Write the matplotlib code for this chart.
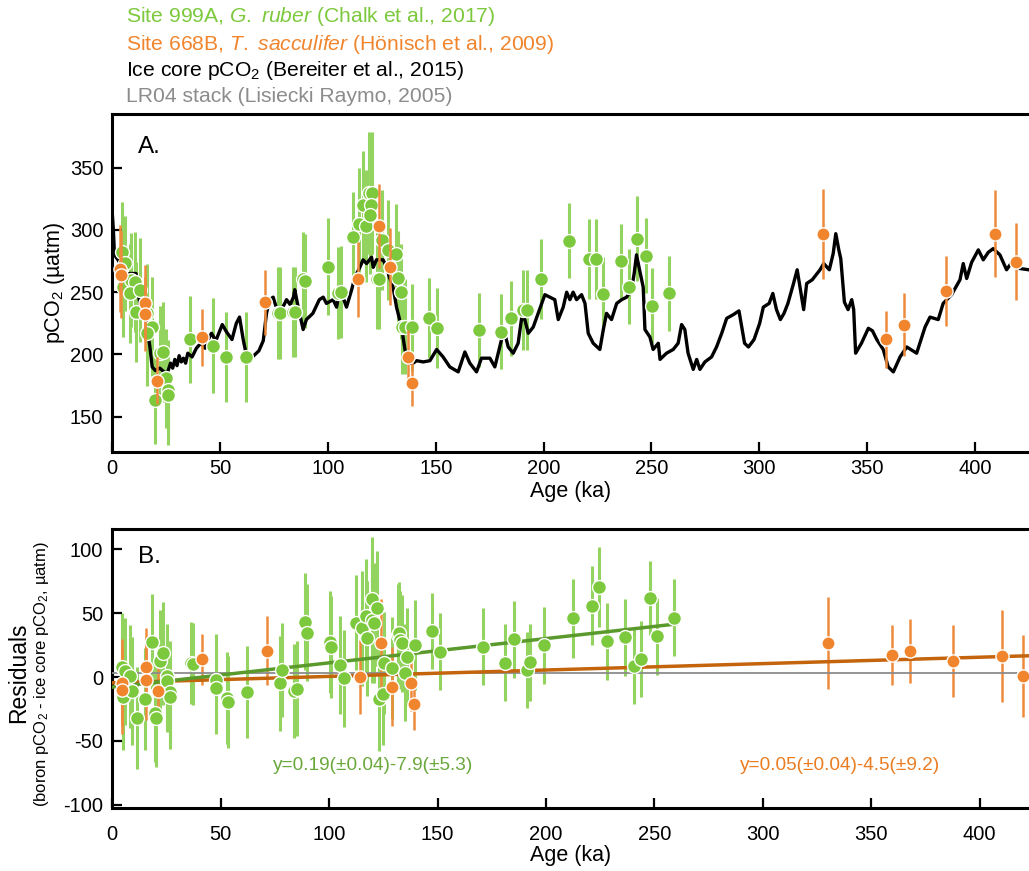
import matplotlib
matplotlib.use("Agg")
import numpy as np
import matplotlib.pyplot as plt

plt.rcParams["font.family"] = ["Liberation Sans", "DejaVu Sans"]
plt.rcParams["mathtext.fontset"] = "custom"
plt.rcParams["mathtext.rm"] = "Liberation Sans"
plt.rcParams["mathtext.it"] = "Liberation Sans:italic"
plt.rcParams["mathtext.default"] = "regular"
plt.rcParams["axes.unicode_minus"] = False

GREEN = "#7cc93e"
GREEN_ERR = "#92d45f"
GREEN_FIT = "#5a9a2c"
GREEN_TXT = "#6aa83c"
ORANGE = "#f0852e"
ORANGE_ERR = "#ee8a3c"
ORANGE_FIT = "#c4640c"
ORANGE_TXT = "#ea7d22"
GREY = "#8c8c8c"

# ── Ice core pCO2 (Bereiter et al., 2015) ───────────────────────────
ice_age = [0, 0.5, 1, 3, 6, 8, 11, 12, 13, 14.5, 16, 17.5, 18.5, 20, 22, 24, 25.5,
           27, 28, 29, 30, 31, 32, 33, 34, 35, 37, 39, 41, 43, 44.5, 46, 48, 51,
           53, 55.5, 57.5, 59, 60.7, 62, 65, 68, 70, 71.5, 73, 74.6, 76, 78.5, 80.8,
           82.5, 84, 84.6, 86.2, 88.5, 90, 93, 96, 97.8, 99.3, 102.4, 104, 105.5,
           107, 108.6, 111, 112.5, 114.8, 116.3, 117.9, 120.2, 121, 122.5, 125.6,
           127.2, 128.5, 130.2, 131.8, 134.1, 135.7, 137.2, 139.5, 141.1, 144.2,
           147.3, 150.4, 153.4, 156.5, 160.4, 163.5, 165.8, 168.9, 171.2, 175.1,
           177.4, 180.5, 182, 183.6, 185.9, 188.2, 189.8, 191.3, 192.9, 195.2, 197.5,
           200.6, 202.9, 205.2, 206.8, 209.1, 210.7, 212.2, 213.7, 215.3, 217.6,
           219.2, 220.7, 223, 226.1, 227.7, 229.2, 231.5, 233.9, 236.2, 238.5, 240.8,
           242, 243.1, 244.5, 246.2, 247, 249.3, 250.8, 253.2, 254, 257, 260.1, 262.4,
           264, 265.5, 267, 269.4, 271, 272.5, 274.8, 277.9, 280.2, 282.6, 284.9, 288,
           290.6, 293.2, 295, 297.6, 300.2, 301.9, 304.6, 306.3, 308, 309.8, 311.5,
           313.3, 315.9, 317.6, 319.4, 320.6, 322, 324.6, 328.2, 329.9, 332.5, 334.3,
           335.5, 336.9, 337.8, 339.5, 341.2, 342.9, 343.8, 344.7, 347.4, 350.6,
           352.5, 354.5, 357.5, 359.8, 362.2, 365.3, 368.4, 373, 376.9, 379.2, 383,
           385.3, 389.2, 393.1, 394.6, 396.2, 398.5, 401.6, 403.9, 406.2, 408.5,
           411.6, 414.7, 417.1, 420.9, 425]
ice_co2 = [313, 300, 280, 275, 262, 265, 265, 250, 238, 236, 225, 205, 190, 187, 189,
           186, 185, 193, 189, 196, 191, 199, 194, 197, 193, 201, 198, 205, 209, 205,
           212, 217, 211, 224, 218, 212, 225, 230, 212, 201, 198, 203, 211, 233, 244,
           246, 238, 236, 244, 240, 246, 252, 238, 220, 228, 233, 244, 246, 241, 244,
           238, 252, 246, 238, 252, 262, 270, 276, 273, 278, 270, 276, 276, 270, 262,
           254, 238, 222, 204, 193, 193, 195, 194, 195, 204, 198, 190, 186, 202, 193,
           186, 197, 197, 190, 212, 217, 206, 201, 209, 229, 228, 217, 222, 233, 248,
           246, 244, 228, 238, 250, 244, 250, 244, 248, 241, 217, 209, 204, 220, 233,
           228, 241, 244, 246, 252, 265, 280, 268, 254, 220, 214, 204, 209, 196, 201,
           204, 209, 224, 220, 201, 188, 196, 188, 194, 198, 206, 217, 229, 232, 235,
           209, 206, 212, 225, 238, 241, 249, 236, 228, 233, 241, 257, 268, 249, 236,
           257, 260, 268, 273, 268, 281, 297, 284, 277, 242, 236, 244, 236, 201, 209,
           221, 219, 212, 204, 190, 186, 198, 206, 201, 222, 230, 228, 241, 248, 260,
           273, 261, 274, 284, 276, 282, 285, 280, 268, 274, 269, 268]

# ── Site 999A, G. ruber (Chalk et al., 2017) : pCO2 ─────────────────
g_age = [4.3, 5.8, 5.0, 8.9, 10.4, 8.1, 12.8, 11.2, 15.9, 18.2, 15.9, 22.0, 23.6,
         19.7, 25.1, 25.9, 25.9, 35.9, 46.8, 52.6, 61.9, 76.9, 77.6, 83.6, 84.6,
         88.5, 89.5, 100.1, 104.7, 106.0, 111.7, 114.5, 116.3, 117.6, 119.1, 120.3,
         119.8, 119.4, 122.8, 123.6, 124.9, 127.9, 131.5, 132.6, 133.7, 134.4, 135.6,
         139.2, 146.9, 150.4, 170.1, 180.2, 184.8, 190.5, 192.1, 198.6, 212.0, 220.9,
         224.1, 227.4, 236.0, 239.7, 243.1, 247.4, 250.4, 258.1]
g_co2 = [282.5, 273.2, 254.4, 259.8, 258.4, 249.1, 251.8, 234.3, 233.0, 222.3, 217.0,
         201.0, 202.2, 163.4, 180.8, 171.4, 167.4, 212.2, 207.0, 197.7, 198.2, 233.5,
         233.5, 234.3, 234.3, 260.4, 259.0, 270.5, 249.1, 250.0, 294.6, 304.8, 320.0,
         303.0, 330.0, 330.0, 320.0, 312.0, 260.4, 260.4, 292.0, 283.9, 280.7, 261.0,
         250.4, 222.3, 222.3, 221.8, 229.5, 221.0, 219.6, 218.3, 229.0, 235.7, 235.7,
         260.4, 291.4, 276.7, 276.7, 248.6, 275.0, 254.4, 293.0, 279.3, 239.2, 249.1]
g_err = [40, 38, 40, 38, 40, 40, 42, 40, 40, 40, 42, 38, 40, 35, 40, 40, 40, 35, 38,
         36, 36, 37, 37, 36, 36, 38, 38, 39, 37, 37, 36, 45, 43, 45, 49, 49, 47, 47,
         40, 40, 40, 40, 40, 38, 38, 38, 38, 35, 32, 32, 30, 30, 30, 32, 32, 32, 30,
         32, 32, 30, 30, 30, 34, 30, 30, 30]

# ── Site 668B, T. sacculifer (Hönisch et al., 2009) : pCO2 ──────────
o_age = [3.8, 4.1, 15.1, 15.1, 20.8, 41.4, 71.0, 114.0, 123.8, 128.7, 137.2, 139.1,
         329.6, 358.8, 367.3, 386.6, 409.3, 419.0]
o_co2 = [269.0, 264.0, 241.6, 232.5, 178.9, 213.8, 241.9, 260.4, 303.2, 270.5, 197.7,
         177.3, 296.6, 212.2, 224.0, 251.0, 297.0, 274.5]
o_err = [35, 35, 30, 30, 19, 23, 26, 30, 34, 31, 22, 19, 36, 23, 25, 28, 35, 31]

# ── Residuals (boron pCO2 - ice core pCO2) ──────────────────────────
gr_age = [4.4, 5.8, 5.1, 8.0, 9.2, 11.3, 15.3, 18.2, 19.7, 20.0, 22.0, 23.3, 25.1,
          25.1, 26.6, 26.6, 36.5, 37.4, 47.6, 47.6, 53.0, 53.2, 62.0, 77.2, 78.1,
          83.8, 85.0, 88.9, 89.9, 100.4, 100.9, 105.1, 106.9, 112.3, 115.0, 117.0,
          117.7, 119.9, 120.0, 120.8, 122.2, 123.2, 124.8, 125.5, 128.9, 131.6, 132.1,
          132.8, 133.8, 134.9, 136.1, 139.8, 147.6, 151.0, 170.9, 180.9, 185.3, 191.1,
          192.7, 199.0, 212.4, 221.3, 224.5, 228.0, 236.6, 240.4, 243.9, 248.2, 251.2,
          258.9]
gr_res = [8.1, 4.5, -15.4, 0.5, -11.0, -32.3, -17.0, 27.6, -28.4, -32.0, 12.3, 18.5,
          1.2, -3.3, -11.5, -16.0, 10.7, 10.0, -2.3, -8.8, -16.2, -19.3, -11.5, -4.9,
          5.5, -11.0, -9.0, 43.3, 34.7, 27.6, 23.7, 9.4, -1.0, 42.5, 38.1, 47.7, 30.3,
          60.8, 44.6, 42.0, 53.8, -17.5, -13.0, 11.2, 7.0, 32.9, 34.7, 29.0, 26.4, 3.4,
          15.9, 25.0, 36.0, 19.8, 23.7, 11.2, 29.5, 5.5, 11.5, 24.8, 45.9, 55.8, 70.4,
          27.9, 31.1, 8.8, 14.1, 61.6, 31.8, 46.4]
gr_err = [42, 42, 42, 40, 42, 40, 40, 37, 38, 38, 40, 40, 40, 40, 40, 40, 32, 32, 36,
          36, 36, 36, 36, 37, 37, 37, 37, 38, 38, 40, 40, 38, 38, 37, 45, 45, 45, 49,
          49, 47, 45, 40, 40, 40, 40, 40, 40, 38, 38, 38, 38, 35, 30, 30, 30, 30, 30,
          30, 30, 30, 31, 31, 31, 30, 30, 30, 30, 29, 30, 30]

or_age = [4.3, 4.6, 15.4, 15.4, 21.2, 41.5, 71.2, 114.3, 123.9, 129.2, 137.8, 139.3,
          330.3, 359.7, 368.1, 387.6, 410.2, 419.9]
or_res = [-4.4, -10.2, 7.6, -2.3, -10.7, 13.8, 20.6, -0.2, 26.4, -7.6, -4.4, -21.1,
          26.4, 17.2, 20.6, 12.5, 16.7, 0.8]
or_err = [34, 34, 31, 31, 24, 20, 27, 29, 35, 31, 22, 20, 36, 23.5, 25, 28.5, 36, 32]

# Régressions linéaires (coefficients annoncés sur la figure)
fit_999 = (0.19, -7.9, 260.0)     # pente, ordonnée, âge max
fit_668 = (0.05, -4.5, 425.0)
zero_line = 3.5

W, H = 1029, 871
fig = plt.figure(figsize=(W / 100, H / 100), dpi=100)


def px_axes(left, top, right, bottom):
    return fig.add_axes([left / W, 1 - bottom / H, (right - left) / W, (bottom - top) / H])


def style(ax, xpad, labelpad):
    for side in ("left", "bottom", "top"):
        ax.spines[side].set_linewidth(2.2)
    ax.spines["right"].set_visible(False)
    ax.tick_params(direction="in", length=7, width=1.6, labelsize=14.5,
                   top=False, right=False)
    ax.tick_params(axis="y", pad=6.5)
    ax.tick_params(axis="x", pad=xpad)
    ax.set_xticks(np.arange(0, 401, 50))
    ax.set_xlabel("Age (ka)", fontsize=15.5, labelpad=labelpad)


# ── (A) pCO2 ────────────────────────────────────────────────────────
ax = px_axes(112.3, 114, 1029, 451.7)
ax.errorbar(g_age, g_co2, yerr=g_err, fmt="none", ecolor=GREEN_ERR, elinewidth=2.2,
            capsize=0, zorder=1)
ax.plot(ice_age, ice_co2, color="black", lw=2.4, zorder=2)
ax.plot(g_age, g_co2, "o", ms=10, mfc=GREEN, mec="white", mew=1.0, zorder=3)
ax.errorbar(o_age, o_co2, yerr=o_err, fmt="none", ecolor=ORANGE_ERR, elinewidth=1.8,
            capsize=0, zorder=4)
ax.plot(o_age, o_co2, "o", ms=9.5, mfc=ORANGE, mec="white", mew=1.0, zorder=5)
ax.set_xlim(0, 425.1)
ax.set_ylim(121.9, 393.1)
ax.set_yticks(np.arange(150, 351, 50))
ax.set_ylabel("pCO$_2$ (µatm)", fontsize=15.5, labelpad=2)
style(ax, xpad=5.5, labelpad=2)
fig.text(138 / W, 1 - 147 / H, "A.", fontsize=17.5, va="center", ha="left")

# ── (B) résidus ─────────────────────────────────────────────────────
bx = px_axes(112.3, 529.3, 1029, 808.3)
bx.errorbar(gr_age, gr_res, yerr=gr_err, fmt="none", ecolor=GREEN_ERR, elinewidth=2.2,
            capsize=0, zorder=1)
bx.errorbar(or_age, or_res, yerr=or_err, fmt="none", ecolor=ORANGE_ERR, elinewidth=1.8,
            capsize=0, zorder=2)
bx.plot([0, 425], [zero_line, zero_line], color=GREY, lw=1.3, zorder=3)
for (slope, icpt, xmax), col in ((fit_668, ORANGE_FIT), (fit_999, GREEN_FIT)):
    xx = np.array([0.0, xmax])
    bx.plot(xx, slope * xx + icpt, color=col, lw=2.5, zorder=4)
bx.plot(gr_age, gr_res, "o", ms=10, mfc=GREEN, mec="white", mew=1.0, zorder=5)
bx.plot(or_age, or_res, "o", ms=9.5, mfc=ORANGE, mec="white", mew=1.0, zorder=6)
bx.set_xlim(0, 422.8)
bx.set_ylim(-102.7, 115.6)
bx.set_yticks(np.arange(-100, 101, 50))
style(bx, xpad=12, labelpad=1)
fig.text(138 / W, 1 - 557 / H, "B.", fontsize=17.5, va="center", ha="left")
fig.text(373 / W, 1 - 765 / H, "y=0.19(±0.04)-7.9(±5.3)", color=GREEN_TXT,
         fontsize=13.7, ha="center", va="center")
fig.text(840 / W, 1 - 765 / H, "y=0.05(±0.04)-4.5(±9.2)", color=ORANGE_TXT,
         fontsize=13.7, ha="center", va="center")
fig.text(19 / W, 1 - 673 / H, "Residuals", rotation=90, fontsize=16.5,
         ha="center", va="center")
fig.text(42 / W, 1 - 674 / H, "(boron pCO$_2$ - ice core pCO$_2$, µatm)", rotation=90,
         fontsize=12, ha="center", va="center")

# ── En-tête (légende texte) ─────────────────────────────────────────
hx = 125.5 / W
fig.text(hx, 1 - 17 / H, "Site 999A, $\\mathit{G.\\ ruber}$ (Chalk et al., 2017)",
         color=GREEN, fontsize=15.2, va="center")
fig.text(hx, 1 - 44 / H, "Site 668B, $\\mathit{T.\\ sacculifer}$ (Hönisch et al., 2009)",
         color=ORANGE, fontsize=15.2, va="center")
fig.text(hx, 1 - 71 / H, "Ice core pCO$_2$ (Bereiter et al., 2015)",
         color="black", fontsize=15.2, va="center")
fig.text(hx, 1 - 96 / H, "LR04 stack (Lisiecki Raymo, 2005)",
         color=GREY, fontsize=15.2, va="center")

fig.savefig("out.png", dpi=100)
